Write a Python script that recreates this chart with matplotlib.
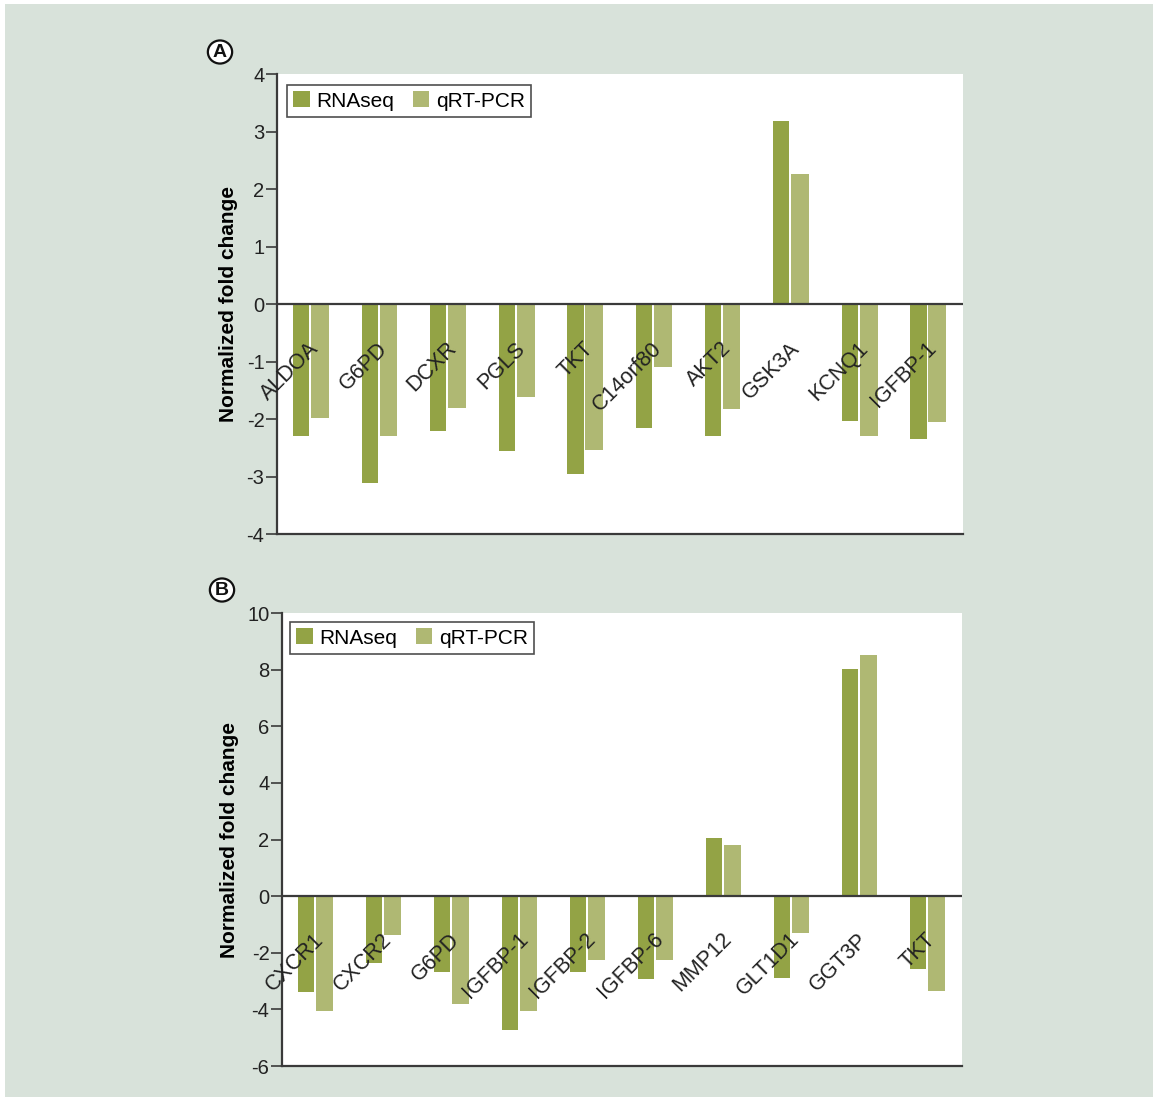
import matplotlib.pyplot as plt
from matplotlib.patches import Rectangle, Circle
import numpy as np

plt.rcParams['font.family'] = ['Liberation Sans', 'DejaVu Sans']
plt.rcParams['axes.unicode_minus'] = False

# Panel A genes and fold changes
genes_a = ['ALDOA', 'G6PD', 'DCXR', 'PGLS', 'TKT', 'C14orf80', 'AKT2', 'GSK3A', 'KCNQ1', 'IGFBP-1']
rnaseq_a = [-2.29, -3.12, -2.20, -2.55, -2.96, -2.15, -2.29, 3.19, -2.04, -2.34]
qrtpcr_a = [-1.99, -2.29, -1.80, -1.62, -2.53, -1.10, -1.83, 2.27, -2.29, -2.06]

# Panel B genes and fold changes
genes_b = ['CXCR1', 'CXCR2', 'G6PD', 'IGFBP-1', 'IGFBP-2', 'IGFBP-6', 'MMP12', 'GLT1D1', 'GGT3P', 'TKT']
rnaseq_b = [-3.37, -2.35, -2.67, -4.74, -2.67, -2.91, 2.05, -2.89, 8.02, -2.56]
qrtpcr_b = [-4.04, -1.37, -3.82, -4.07, -2.25, -2.25, 1.80, -1.30, 8.51, -3.35]

c_rna = '#93a345'
c_pcr = '#afb873'
bg = '#d8e2da'
dark = '#3a3a3a'

fig = plt.figure(figsize=(11.56, 11.0), dpi=100, facecolor='white')
fig.patches.append(Rectangle((0.004, 0.003), 0.993, 0.993, transform=fig.transFigure,
                             facecolor=bg, edgecolor='none', zorder=-10))


def panel(rect, genes, rna, pcr, ylim, yticks, label_y, letter, letter_xy, leg_anchor):
    ax = fig.add_axes(rect)
    x = np.arange(len(genes)) + 0.5
    ax.bar(x - 0.265, rna, width=0.235, align='edge', color=c_rna, label='RNAseq', zorder=2)
    ax.bar(x - 0.005, pcr, width=0.26, align='edge', color=c_pcr, label='qRT-PCR', zorder=2)
    ax.axhline(0, color=dark, lw=1.6, zorder=3)
    ax.set_xlim(0, len(genes))
    ax.set_ylim(*ylim)
    ax.set_yticks(yticks)
    ax.set_xticks([])
    for s in ['top', 'right']:
        ax.spines[s].set_visible(False)
    for s in ['left', 'bottom']:
        ax.spines[s].set_color(dark)
        ax.spines[s].set_linewidth(1.6)
    ax.tick_params(axis='y', length=8, width=1.2, color=dark, labelsize=14.5, labelcolor='#222222', pad=1)
    for xi, g in zip(x, genes):
        ax.text(xi + 0.07, label_y, g, rotation=45, rotation_mode='anchor', ha='right', va='center',
                fontsize=15.5, color='#222222', zorder=4)
    ax.set_ylabel('Normalized fold change', fontsize=15, fontweight='bold', labelpad=6)
    leg = ax.legend(loc='upper left', ncol=2, fontsize=15, frameon=True, fancybox=False,
                    handlelength=0.8, handleheight=0.8, handletextpad=0.3, columnspacing=0.9,
                    borderpad=0.3, borderaxespad=0, bbox_to_anchor=leg_anchor)
    leg.get_frame().set_edgecolor('#222222')
    leg.get_frame().set_linewidth(1.2)
    fig.patches.append(Circle(letter_xy, 0.0105, transform=fig.transFigure, facecolor='white',
                              edgecolor='#111111', lw=1.6))
    fig.text(letter_xy[0], letter_xy[1] - 0.0005, letter, ha='center', va='center',
             fontsize=14, fontweight='bold', color='#111111')
    return ax


panel([0.2396, 0.5145, 0.5934, 0.4182], genes_a, rnaseq_a, qrtpcr_a, (-4, 4),
      [-4, -3, -2, -1, 0, 1, 2, 3, 4], -0.72, 'A', (220 / 1156, 1 - 52 / 1100), (0.0146, 0.976))
panel([0.2439, 0.0309, 0.5882, 0.4118], genes_b, rnaseq_b, qrtpcr_b, (-6, 10),
      [-6, -4, -2, 0, 2, 4, 6, 8, 10], -1.42, 'B', (222 / 1156, 1 - 590 / 1100), (0.0118, 0.980))

fig.savefig('out.png', dpi=100, facecolor=fig.get_facecolor())
